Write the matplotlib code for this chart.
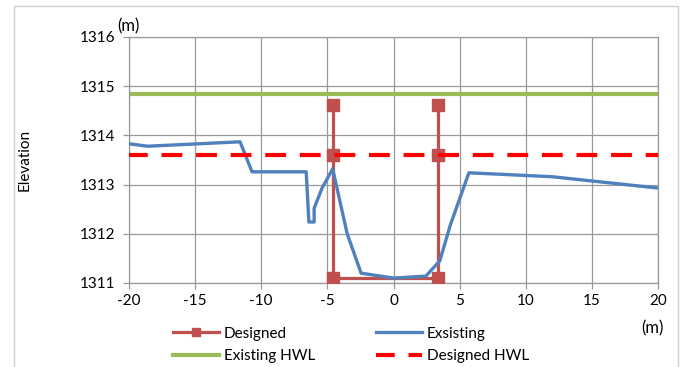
import matplotlib
matplotlib.use("Agg")
import matplotlib.pyplot as plt
from matplotlib.patches import Rectangle

plt.rcParams['font.family'] = ['Lato', 'DejaVu Sans']
plt.rcParams['axes.unicode_minus'] = False

# Cross-section data (offset in m, elevation in m)
designed_x = [-4.6, -4.6, -4.6, 3.4, 3.4, 3.4]
designed_y = [1314.62, 1313.6, 1311.1, 1311.1, 1313.6, 1314.62]

existing_x = [-20, -18.6, -11.6, -10.7, -6.6, -6.4, -6.0, -6.0, -5.4, -4.6,
              -3.5, -2.45, 0, 2.45, 3.5, 4.3, 5.7, 12.0, 20]
existing_y = [1313.83, 1313.78, 1313.87, 1313.26, 1313.26, 1312.24, 1312.24,
              1312.52, 1312.93, 1313.32, 1312.0, 1311.2, 1311.1, 1311.14,
              1311.45, 1312.18, 1313.24, 1313.16, 1312.93]

hwl_x = [-20, 20]
existing_hwl = [1314.85, 1314.85]
designed_hwl = [1313.6, 1313.6]

x_ticks = [-20, -15, -10, -5, 0, 5, 10, 15, 20]
y_ticks = [1311, 1312, 1313, 1314, 1315, 1316]

fs = 11

fig = plt.figure(figsize=(6.85, 3.67), dpi=100)
ax = fig.add_axes([129 / 685, 1 - 283 / 367, 529 / 685, 246 / 367])

grid_c = '#999999'
h_des, = ax.plot(designed_x, designed_y, color='#C0504D', lw=2.3, marker='s',
                 markersize=8.5, label='Designed', zorder=3)
h_ex, = ax.plot(existing_x, existing_y, color='#4F81BD', lw=2.4,
                label='Exsisting', zorder=4)
h_ehwl, = ax.plot(hwl_x, existing_hwl, color='#9BBB59', lw=3.0,
                  label='Existing HWL', zorder=2)
h_dhwl, = ax.plot(hwl_x, designed_hwl, color='#FF0000', lw=3.0,
                  ls=(0.5, (5, 3.3)), label='Designed HWL', zorder=5)

ax.set_xlim(-20, 20)
ax.set_ylim(1311, 1316)
ax.set_xticks(x_ticks)
ax.set_yticks(y_ticks)
ax.grid(True, color=grid_c, lw=0.9)
ax.set_axisbelow(True)
for s in ax.spines.values():
    s.set_color(grid_c)
    s.set_linewidth(0.9)
ax.tick_params(colors=grid_c, labelcolor='black', length=4, width=0.9,
               labelsize=fs)
ax.tick_params(axis='x', pad=4)
ax.tick_params(axis='y', pad=6)

ax.set_ylabel('Elevation', fontsize=fs)
ax.yaxis.set_label_coords((32 - 129) / 529, 0.5)
fig.text(128 / 685, 1 - 26 / 367, '(m)', fontsize=12, ha='center',
         va='center')
fig.text(652 / 685, 1 - 328 / 367, '(m)', fontsize=12, ha='center',
         va='center')

# Legend filled column-wise: order handles so rows read left to right
handles = [h_des, h_ehwl, h_ex, h_dhwl]
fig.legend(handles=handles, labels=[h.get_label() for h in handles],
           loc='center', bbox_to_anchor=(351 / 685, 1 - 345 / 367), ncol=2,
           frameon=False, fontsize=fs, handlelength=3.0, columnspacing=4.0,
           labelspacing=0.55, handletextpad=0.3, markerscale=0.75)

# Outer chart-area border
fig.patches.append(Rectangle((14 / 685, -0.01), (678 - 14) / 685,
                             1 - 6 / 367 + 0.01, transform=fig.transFigure,
                             fill=False, edgecolor='#d0d0d0', lw=1.0))

fig.savefig('out.png', dpi=100)
